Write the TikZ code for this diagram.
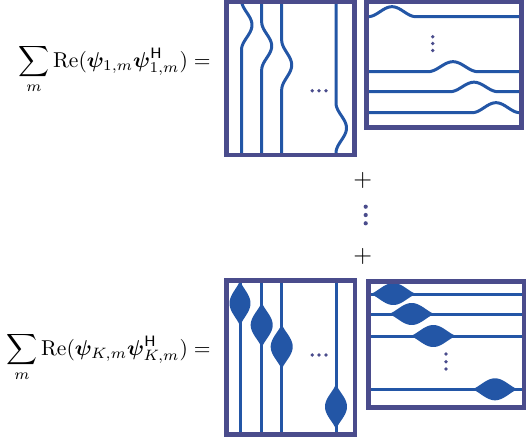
\documentclass[tikz,border=0pt]{standalone}
\usepackage{amsmath,bm}
\definecolor{framec}{HTML}{4A4C8C}
\definecolor{wavec}{HTML}{2356A6}
\tikzset{
  boxframe/.style={draw=framec, line width=2.7pt},
  wave/.style={draw=wavec, line width=1.8pt},
  lens/.style={fill=wavec},
  dotc/.style={fill=framec},
  eqn/.style={anchor=base east, inner sep=0pt, scale=1.29},
}
% vertical line with one raised-cosine bump: base x, centre y, length, amplitude
\newcommand{\vbump}[6]{%
  \draw[wave] (#1,#5) -- (#1,{#2-#3/2})
    -- plot[domain={-#3/2}:{#3/2}, samples=40] ({#1+#4*(1+cos(360*\x/#3))/2},{#2+\x})
    -- (#1,#6);}
% horizontal line with one raised-cosine bump: base y, centre x, length, amplitude
\newcommand{\hbump}[6]{%
  \draw[wave] (#5,#1) -- ({#2-#3/2},#1)
    -- plot[domain={-#3/2}:{#3/2}, samples=40] ({#2+\x},{#1-#4*(1+cos(360*\x/#3))/2})
    -- (#6,#1);}
% envelope of a lens: c^1.5 with c = cos over half-length 23.5
\pgfmathdeclarefunction{env}{1}{%
  \pgfmathparse{cos(90*#1/23.5)*sqrt(abs(cos(90*#1/23.5)))}}
% vertical lens on a vertical line
\newcommand{\vlens}[3]{%
  \fill[lens] plot[domain=-23.5:23.5, samples=50] ({#1+#3*env(\x)},{#2+\x})
    -- plot[domain=23.5:-23.5, samples=50] ({#1-#3*env(\x)},{#2+\x}) -- cycle;}
% horizontal lens on a horizontal line
\newcommand{\hlens}[3]{%
  \fill[lens] plot[domain=-23.5:23.5, samples=50] ({#2+\x},{#1-#3*env(\x)})
    -- plot[domain=23.5:-23.5, samples=50] ({#2+\x},{#1+#3*env(\x)}) -- cycle;}
\begin{document}
\begin{tikzpicture}[x=0.6pt,y=-0.6pt]
\useasboundingbox (0,0) rectangle (529,444);

% ---- first term ----
\node[eqn] (sum1) at (211,67)
  {$\displaystyle\sum_m \mathrm{Re}(\bm{\psi}_{1,m}\bm{\psi}^{\mathsf{H}}_{1,m}) =$};

\begin{scope}
  \clip (226.5,2) rectangle (354.5,155);
  \vbump{241.5}{25}{50}{10.5}{-10}{160}
  \vbump{261.7}{46}{48}{10}{-10}{160}
  \vbump{281.7}{65}{50}{10}{-10}{160}
  \vbump{336}{128}{50}{10.5}{-10}{160}
\end{scope}
\draw[boxframe] (226.5,2) rectangle (354.5,155);
\foreach \u in {312.3,319,326} \fill[dotc] (\u,90.7) circle (1.9);

\begin{scope}
  \clip (366.5,2) rectangle (521.5,127.5);
  \hbump{16.7}{392}{48}{10}{360}{530}
  \hbump{71.7}{453}{50}{10}{360}{530}
  \hbump{91.7}{474}{48}{9.5}{360}{530}
  \hbump{112.7}{496}{48}{10}{360}{530}
\end{scope}
\draw[boxframe] (366.5,2) rectangle (521.5,127.5);
\foreach \v in {36.7,43.5,50.5} \fill[dotc] (432.7,\v) circle (1.9);

% ---- sum continues ----
\node[scale=1.45, inner sep=0pt] (plus1) at (362.7,180.7) {$+$};
\foreach \v in {206.7,215,223.3} \fill[dotc] (365.7,\v) circle (2.1);
\node[scale=1.45, inner sep=0pt] (plus2) at (362.7,256) {$+$};

% ---- last term ----
\node[eqn] (sumK) at (211,355)
  {$\displaystyle\sum_m \mathrm{Re}(\bm{\psi}_{K,m}\bm{\psi}^{\mathsf{H}}_{K,m}) =$};

\begin{scope}
  \clip (226.5,280.5) rectangle (355,434.5);
  \foreach \u in {240,261.7,281.7,336} \draw[wave] (\u,270) -- (\u,440);
  \vlens{240}{303.3}{10.5}
  \vlens{261.7}{325}{11}
  \vlens{281.7}{346.7}{11}
  \vlens{336}{406.7}{11}
\end{scope}
\draw[boxframe] (226.5,280.5) rectangle (355,434.5);
\foreach \u in {312.3,319,326} \fill[dotc] (\u,355) circle (1.9);

\begin{scope}
  \clip (368.5,281.5) rectangle (524,407.5);
  \foreach \v in {294,314,336,389.3} \draw[wave] (360,\v) -- (530,\v);
  \hlens{294}{393.3}{11}
  \hlens{314}{411.7}{11}
  \hlens{336}{433.3}{11}
  \hlens{389.3}{495}{11}
\end{scope}
\draw[boxframe] (368.5,281.5) rectangle (524,407.5);
\foreach \v in {354,361.7,369} \fill[dotc] (446,\v) circle (1.9);
\end{tikzpicture}
\end{document}
